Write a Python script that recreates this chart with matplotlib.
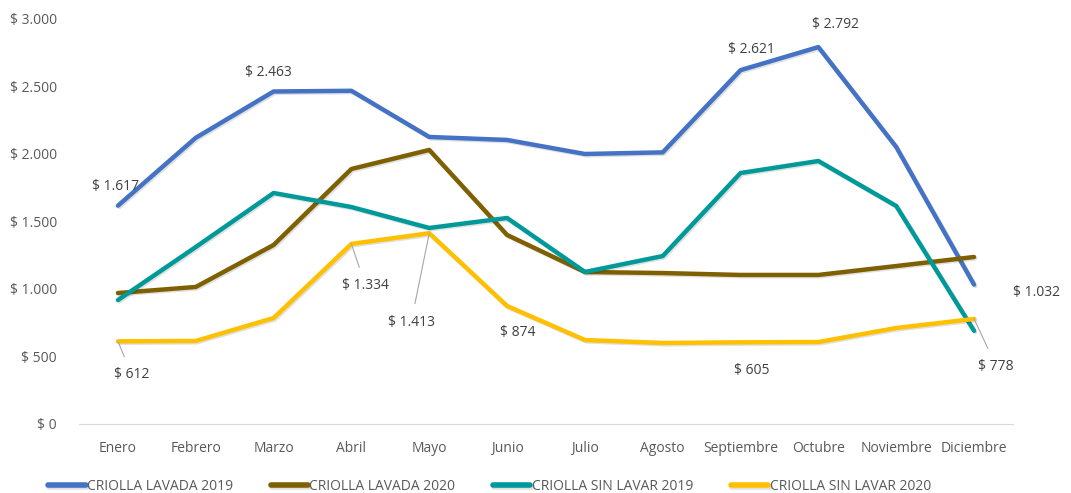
import matplotlib
matplotlib.use('Agg')
import matplotlib.pyplot as plt
import matplotlib.patheffects as pe
import numpy as np

plt.rcParams['font.family'] = ['Open Sans', 'DejaVu Sans']

meses = ['Enero', 'Febrero', 'Marzo', 'Abril', 'Mayo', 'Junio', 'Julio',
         'Agosto', 'Septiembre', 'Octubre', 'Noviembre', 'Diciembre']

lavada_2019 = [1617, 2120, 2463, 2468, 2126, 2104, 2000, 2012, 2621, 2792, 2052, 1032]
lavada_2020 = [970, 1015, 1326, 1889, 2030, 1400, 1126, 1118, 1104, 1104, 1170, 1237]
sin_lavar_2019 = [918, 1311, 1711, 1607, 1452, 1526, 1126, 1244, 1859, 1948, 1615, 690]
sin_lavar_2020 = [612, 615, 785, 1334, 1413, 874, 622, 600, 605, 607, 711, 778]

series = [
    ('CRIOLLA LAVADA 2019', lavada_2019, '#4472C4'),
    ('CRIOLLA LAVADA 2020', lavada_2020, '#7F6000'),
    ('CRIOLLA SIN LAVAR 2019', sin_lavar_2019, '#009999'),
    ('CRIOLLA SIN LAVAR 2020', sin_lavar_2020, '#FFC000'),
]

txt = '#595959'

def fmt(v):
    return '$ ' + f'{v:,}'.replace(',', '.')

fig = plt.figure(figsize=(10.71, 4.93), dpi=100)
ax = fig.add_axes([0.0738, 0.14, 0.872, 0.8215])
x = np.arange(len(meses))

shadow = [pe.SimpleLineShadow(offset=(1.0, -1.0), alpha=0.12, shadow_color='black'), pe.Normal()]
for name, vals, col in series:
    ax.plot(x, vals, color=col, lw=3.2, label=name, solid_capstyle='round',
            solid_joinstyle='round', path_effects=shadow)

ax.set_xlim(-0.5, 11.5)
ax.set_ylim(0, 3000)
ax.set_yticks(np.arange(0, 3001, 500))
ax.set_yticklabels([fmt(int(v)) for v in np.arange(0, 3001, 500)])
ax.set_xticks(x)
ax.set_xticklabels(meses)
ax.tick_params(axis='both', length=0, colors=txt, labelsize=10)
ax.tick_params(axis='x', pad=12)
ax.tick_params(axis='y', pad=16)
for s in ['top', 'right', 'left']:
    ax.spines[s].set_visible(False)
ax.spines['bottom'].set_color('#D9D9D9')

# data labels (offsets in points)
labels = [
    (lavada_2019, 0, (-2, 14), None),
    (lavada_2019, 2, (-4, 14), None),
    (lavada_2019, 8, (8, 15), None),
    (lavada_2019, 9, (12, 16), None),
    (lavada_2019, 11, (45, -6), None),
    (sin_lavar_2020, 3, (10, -30), True),
    (sin_lavar_2020, 4, (-13, -64), True),
    (sin_lavar_2020, 5, (8, -19), None),
    (sin_lavar_2020, 0, (10, -24), True),
    (sin_lavar_2020, 8, (8, -20), None),
    (sin_lavar_2020, 11, (16, -34), True),
]
for vals, i, off, leader in labels:
    ax.annotate(fmt(vals[i]), (i, vals[i]), xytext=off, textcoords='offset points',
                ha='center', va='center', fontsize=10, color='#404040',
                arrowprops=dict(arrowstyle='-', color='#A6A6A6', lw=0.8,
                                shrinkA=6, shrinkB=0) if leader else None)

leg = fig.legend(loc='lower center', bbox_to_anchor=(0.457, -0.028), ncol=4, frameon=False,
                 fontsize=10, handlelength=2.7, handletextpad=0.1, columnspacing=2.7)
for t in leg.get_texts():
    t.set_color(txt)
for h in leg.get_lines():
    h.set_linewidth(4)

fig.savefig('out.png', dpi=100)
